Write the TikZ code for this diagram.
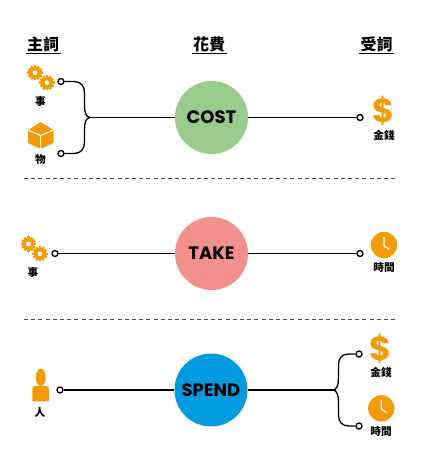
\documentclass[tikz,border=0pt]{standalone}
\usepackage{fontspec}
\setmainfont{Poppins}
\newfontfamily\cjkfont{Noto Sans CJK TC}
\definecolor{iconor}{HTML}{F39C07}
\definecolor{costg}{HTML}{98CB8C}
\definecolor{takep}{HTML}{F2918B}
\definecolor{spendb}{HTML}{039BE0}
\tikzset{
  x=0.75pt,y=-0.75pt,
  verbc/.style={circle,minimum size=54.75pt,inner sep=0pt,font=\bfseries\fontsize{13.5}{14}\selectfont,text=black},
  head/.style={font=\cjkfont\bfseries\fontsize{12}{12}\selectfont,inner sep=0pt},
  lab/.style={font=\cjkfont\bfseries\fontsize{8}{8}\selectfont,inner sep=0pt},
  conn/.style={draw=black,line width=1pt},
  port/.style={circle,draw=black,line width=1pt,fill=white,minimum size=4.5pt,inner sep=0pt},
  rule/.style={draw=black,line width=1.1pt},
  sep/.style={draw=black!70,line width=0.75pt,dash pattern=on 3pt off 2.4pt},
  dollar/.style={text=iconor,inner sep=0pt,text height=8pt,text depth=0pt,font=\bfseries\fontsize{25}{25}\selectfont},
  gear/.pic={
    \fill[iconor] (0,0) circle (6.3);
    \foreach \a in {0,30,...,330}
      \fill[iconor,rotate=\a] (-1.2,-7.6) rectangle (1.2,-5);
    \fill[white] (0,0) circle (2.4);
  },
  clockface/.pic={
    \fill[iconor] (0,0) circle (13.2);
    \draw[white,line width=1pt,line cap=round] (0,-8) -- (0,1) -- (5,4);
  }
}
\begin{document}
\begin{tikzpicture}
\useasboundingbox (0,0) rectangle (426,463);
% headers
\node[head] (h1) at (43,44) {主詞};
\node[head] (h2) at (209,44) {花費};
\node[head] (h3) at (376.5,44) {受詞};
\draw[rule] (26,53.5) -- (60.5,53.5);
\draw[rule] (192,53.5) -- (226.5,53.5);
\draw[rule] (359,53.5) -- (394,53.5);
% separators
\draw[sep] (24,179) -- (396,179);
\draw[sep] (24,319) -- (396,319);
% verb circles
\node[verbc,fill=costg] (cost) at (211.5,117.5) {COST};
\node[verbc,fill=takep] (take) at (211.5,253.5) {TAKE};
\node[verbc,fill=spendb] (spend) at (211,390) {SPEND};
% ports
\node[port] (p1a) at (61,81.5) {};
\node[port] (p1b) at (61,153.5) {};
\node[port] (p1c) at (360,117.5) {};
\node[port] (p2a) at (55,253.5) {};
\node[port] (p2c) at (360,253.5) {};
\node[port] (p3a) at (60,390) {};
\node[port] (p3b) at (359,354) {};
\node[port] (p3c) at (359,426) {};
\coordinate (br1) at (90,117.5);
\coordinate (br3) at (333,390);
% connectors
\draw[conn] (p1a) -- (74,81.5) .. controls (81,81.5) and (84.5,86) .. (84.5,93) -- (84.5,106) .. controls (84.5,112) and (86,117.5) .. (br1);
\draw[conn] (p1b) -- (74,153.5) .. controls (81,153.5) and (84.5,149) .. (84.5,142) -- (84.5,129) .. controls (84.5,123) and (86,117.5) .. (br1);
\draw[conn] (br1) -- (cost);
\draw[conn] (cost) -- (p1c);
\draw[conn] (p2a) -- (take);
\draw[conn] (take) -- (p2c);
\draw[conn] (p3a) -- (spend);
\draw[conn] (spend) -- (br3);
\draw[conn] (p3b) -- (349,354) .. controls (342,354) and (338.5,358) .. (338.5,365) -- (338.5,378) .. controls (338.5,384) and (337,390) .. (br3);
\draw[conn] (p3c) -- (349,426) .. controls (342,426) and (338.5,422) .. (338.5,415) -- (338.5,402) .. controls (338.5,396) and (337,390) .. (br3);
% row 1 left icons
\pic at (35,72.7) {gear};
\pic at (47,82.7) {gear};
\node[lab] (l1) at (40.5,101.7) {事};
\fill[iconor] (28,130) -- (40.7,122) -- (53.5,130) -- (53.5,143) -- (40.7,149) -- (28,143) -- cycle;
\draw[white,line width=0.8pt] (28,130) -- (40.7,135.5) -- (53.5,130) (40.7,135.5) -- (40.7,149);
\node[lab] (l2) at (40.5,159) {物};
% row 1 right
\node[dollar] (d1) at (383.5,117.5) {\$};
\node[lab] (l3) at (384,135) {金錢};
% row 2
\pic at (28.5,244) {gear};
\pic at (40,253.7) {gear};
\node[lab] (l4) at (33,272.7) {事};
\pic at (384,245) {clockface};
\node[lab] (l5) at (384,267) {時間};
% row 3
\fill[iconor] (40.7,377.3) ellipse (5 and 8.7);
\fill[iconor,rounded corners=2.2pt] (32.3,401.3) [sharp corners] -- (32.3,390) [rounded corners=2.2pt] -- (32.3,386) -- (49,386) [sharp corners] -- (49,401.3) -- cycle;
\node[lab] (l6) at (40,412) {人};
\node[dollar] (d2) at (380.5,355.5) {\$};
\node[lab] (l7) at (381,372.7) {金錢};
\pic at (381.3,408.3) {clockface};
\node[lab] (l8) at (381,431.7) {時間};
\end{tikzpicture}
\end{document}
